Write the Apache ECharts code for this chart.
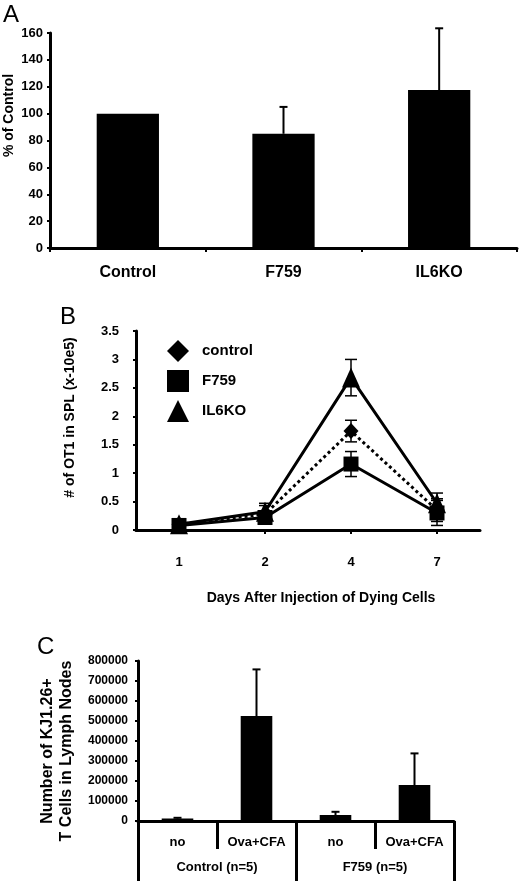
<!DOCTYPE html>
<html>
<head>
<meta charset="utf-8">
<script src="https://cdn.jsdelivr.net/npm/echarts@6/dist/echarts.min.js"></script>
<style>
  html, body { margin: 0; padding: 0; background: #fff; }
  #chart { width: 520px; height: 881px; }
</style>
</head>
<body>
<div id="chart"></div>
<script>
var FONT = 'Liberation Sans, Arial, sans-serif';

// panel A
var catsA = ['Control', 'F759', 'IL6KO'];
var valsA = [100, 85, 117.5];
var errA = [0, 20, 46];

// panel B
var daysB = ['1', '2', '4', '7'];
var controlB = [0.1, 0.28, 1.74, 0.35];
var controlErrB = [0.05, 0.15, 0.19, 0.2];
var f759B = [0.08, 0.22, 1.16, 0.3];
var f759ErrB = [0.05, 0.1, 0.22, 0.22];
var il6koB = [0.1, 0.32, 2.68, 0.47];
var il6koErrB = [0.05, 0.15, 0.32, 0.18];

// panel C
var catsC = ['no', 'Ova+CFA', 'no', 'Ova+CFA'];
var groupsC = ['Control (n=5)', 'F759 (n=5)'];
var valsC = [12000, 525000, 30000, 180000];
var errC = [4000, 233000, 16000, 158000];

function errData(vals, errs) {
    var out = [];
    for (var i = 0; i < vals.length; i++) out.push([i, vals[i], errs[i]]);
    return out;
}

// error bar drawn through the axis scales
function errRender(both, capW, lw) {
    return function (params, api) {
        var x = api.value(0), v = api.value(1), e = api.value(2);
        if (!e) return;
        var top = api.coord([x, v + e]);
        var bot = api.coord([x, both ? v - e : v]);
        var st = { stroke: '#000', lineWidth: lw };
        var kids = [
            { type: 'line', shape: { x1: top[0], y1: top[1], x2: bot[0], y2: bot[1] }, style: st },
            { type: 'line', shape: { x1: top[0] - capW / 2, y1: top[1], x2: top[0] + capW / 2, y2: top[1] }, style: st }
        ];
        if (both) kids.push({ type: 'line', shape: { x1: bot[0] - capW / 2, y1: bot[1], x2: bot[0] + capW / 2, y2: bot[1] }, style: st });
        return { type: 'group', children: kids };
    };
}

var axisLine = { lineStyle: { color: '#000', width: 3 } };
var tickLbl = { color: '#000', fontWeight: 'bold', fontFamily: FONT };

var myChart = echarts.init(document.getElementById('chart'));
var option = {
    backgroundColor: '#fff',
    animation: false,
    textStyle: { fontFamily: FONT },
    graphic: [
        { type: 'text', left: 3, top: 3, style: { text: 'A', font: '24px ' + FONT, fill: '#000' } },
        { type: 'text', left: 60, top: 305, style: { text: 'B', font: '24px ' + FONT, fill: '#000' } },
        { type: 'text', left: 37, top: 635, style: { text: 'C', font: '24px ' + FONT, fill: '#000' } }
    ],
    legend: {
        orient: 'vertical',
        left: 162,
        top: 335,
        itemWidth: 22,
        itemHeight: 22,
        itemGap: 8,
        textStyle: { color: '#000', fontSize: 15, fontWeight: 'bold', fontFamily: FONT, padding: [0, 0, 0, 8] },
        data: [
            { name: 'control', icon: 'diamond' },
            { name: 'F759', icon: 'rect' },
            { name: 'IL6KO', icon: 'triangle' }
        ]
    },
    grid: [
        { left: 50, right: 3, top: 33, bottom: 633, outerBoundsMode: 'none', containLabel: false },
        { left: 136, right: 40, top: 331, bottom: 351, outerBoundsMode: 'none', containLabel: false },
        { left: 138, right: 66, top: 661, bottom: 60, outerBoundsMode: 'none', containLabel: false }
    ],
    xAxis: [
        {
            type: 'category', gridIndex: 0, data: catsA,
            axisLine: axisLine,
            axisTick: { show: true, length: 4, lineStyle: { color: '#000', width: 2 } },
            axisLabel: Object.assign({ fontSize: 16, margin: 17 }, tickLbl)
        },
        {
            type: 'category', gridIndex: 1, data: daysB,
            axisLine: axisLine,
            axisTick: { show: true, alignWithLabel: true, length: 4, lineStyle: { color: '#000', width: 2 } },
            axisLabel: Object.assign({ fontSize: 13, margin: 26 }, tickLbl),
            name: 'Days After Injection of Dying Cells',
            nameLocation: 'middle',
            nameGap: 61,
            nameMoveOverlap: false,
            nameTextStyle: { color: '#000', fontSize: 14, fontWeight: 'bold', fontFamily: FONT, padding: [0, 0, 0, 26] }
        },
        {
            type: 'category', gridIndex: 2, data: catsC,
            axisLine: axisLine,
            axisTick: { show: true, interval: 0, length: 28, lineStyle: { color: '#000', width: 3 } },
            axisLabel: Object.assign({ fontSize: 13, margin: 15, interval: 0 }, tickLbl)
        },
        {
            type: 'category', gridIndex: 2, data: groupsC, position: 'bottom',
            axisLine: { show: false },
            axisTick: { show: true, length: 60, lineStyle: { color: '#000', width: 3 } },
            axisLabel: Object.assign({ fontSize: 13, margin: 40 }, tickLbl)
        }
    ],
    yAxis: [
        {
            type: 'value', gridIndex: 0, min: 0, max: 160, interval: 20,
            splitLine: { show: false },
            axisLine: { show: true, lineStyle: { color: '#000', width: 3 } },
            axisTick: { show: true, length: 3, lineStyle: { color: '#000', width: 2 } },
            axisLabel: Object.assign({ fontSize: 13, margin: 7 }, tickLbl),
            name: '% of Control', nameLocation: 'middle', nameGap: 34, nameMoveOverlap: false,
            nameTextStyle: { color: '#000', fontSize: 14, fontWeight: 'bold', fontFamily: FONT, padding: [0, 0, 0, 50] }
        },
        {
            type: 'value', gridIndex: 1, min: 0, max: 3.5, interval: 0.5,
            splitLine: { show: false },
            axisLine: { show: true, lineStyle: { color: '#000', width: 3 } },
            axisTick: { show: true, length: 3, lineStyle: { color: '#000', width: 2 } },
            axisLabel: Object.assign({ fontSize: 13, margin: 17 }, tickLbl),
            name: '# of OT1 in SPL (x-10e5)', nameLocation: 'middle', nameGap: 59, nameMoveOverlap: false,
            nameTextStyle: { color: '#000', fontSize: 14, fontWeight: 'bold', fontFamily: FONT, padding: [0, 0, 0, 26] }
        },
        {
            type: 'value', gridIndex: 2, min: 0, max: 800000, interval: 100000,
            splitLine: { show: false },
            axisLine: { show: true, lineStyle: { color: '#000', width: 3 } },
            axisTick: { show: true, length: 3, lineStyle: { color: '#000', width: 2 } },
            axisLabel: Object.assign({ fontSize: 12, margin: 10, formatter: function (v) { return String(v); } }, tickLbl),
            name: 'Number of KJ1.26+\nT Cells in Lymph Nodes', nameLocation: 'middle', nameGap: 62, nameMoveOverlap: false,
            nameTextStyle: { color: '#000', fontSize: 16, fontWeight: 'bold', fontFamily: FONT, lineHeight: 19, padding: [0, 20, 0, 0] }
        }
    ],
    series: [
        {
            type: 'bar', xAxisIndex: 0, yAxisIndex: 0, data: valsA, barWidth: '40%',
            itemStyle: { color: '#000' }
        },
        {
            type: 'custom', xAxisIndex: 0, yAxisIndex: 0, data: errData(valsA, errA),
            encode: { x: 0, y: 1 }, renderItem: errRender(false, 8, 2), z: 3
        },
        {
            name: 'control', type: 'line', xAxisIndex: 1, yAxisIndex: 1, data: controlB,
            symbol: 'diamond', symbolSize: [15, 16],
            lineStyle: { color: '#000', width: 3, type: 'dotted' },
            itemStyle: { color: '#000' }, z: 3
        },
        {
            name: 'F759', type: 'line', xAxisIndex: 1, yAxisIndex: 1, data: f759B,
            symbol: 'rect', symbolSize: 15,
            lineStyle: { color: '#000', width: 3 },
            itemStyle: { color: '#000' }, z: 3
        },
        {
            name: 'IL6KO', type: 'line', xAxisIndex: 1, yAxisIndex: 1, data: il6koB,
            symbol: 'triangle', symbolSize: [18, 20],
            lineStyle: { color: '#000', width: 3 },
            itemStyle: { color: '#000' }, z: 3
        },
        {
            type: 'custom', xAxisIndex: 1, yAxisIndex: 1, data: errData(controlB, controlErrB),
            encode: { x: 0, y: 1 }, renderItem: errRender(true, 12, 1.5), z: 4
        },
        {
            type: 'custom', xAxisIndex: 1, yAxisIndex: 1, data: errData(f759B, f759ErrB),
            encode: { x: 0, y: 1 }, renderItem: errRender(true, 12, 1.5), z: 4
        },
        {
            type: 'custom', xAxisIndex: 1, yAxisIndex: 1, data: errData(il6koB, il6koErrB),
            encode: { x: 0, y: 1 }, renderItem: errRender(true, 12, 1.5), z: 4
        },
        {
            type: 'bar', xAxisIndex: 2, yAxisIndex: 2, data: valsC, barWidth: '40%',
            itemStyle: { color: '#000' }
        },
        {
            type: 'custom', xAxisIndex: 2, yAxisIndex: 2, data: errData(valsC, errC),
            encode: { x: 0, y: 1 }, renderItem: errRender(false, 8, 2), z: 3
        }
    ]
};
myChart.setOption(option);
</script>
</body>
</html>
